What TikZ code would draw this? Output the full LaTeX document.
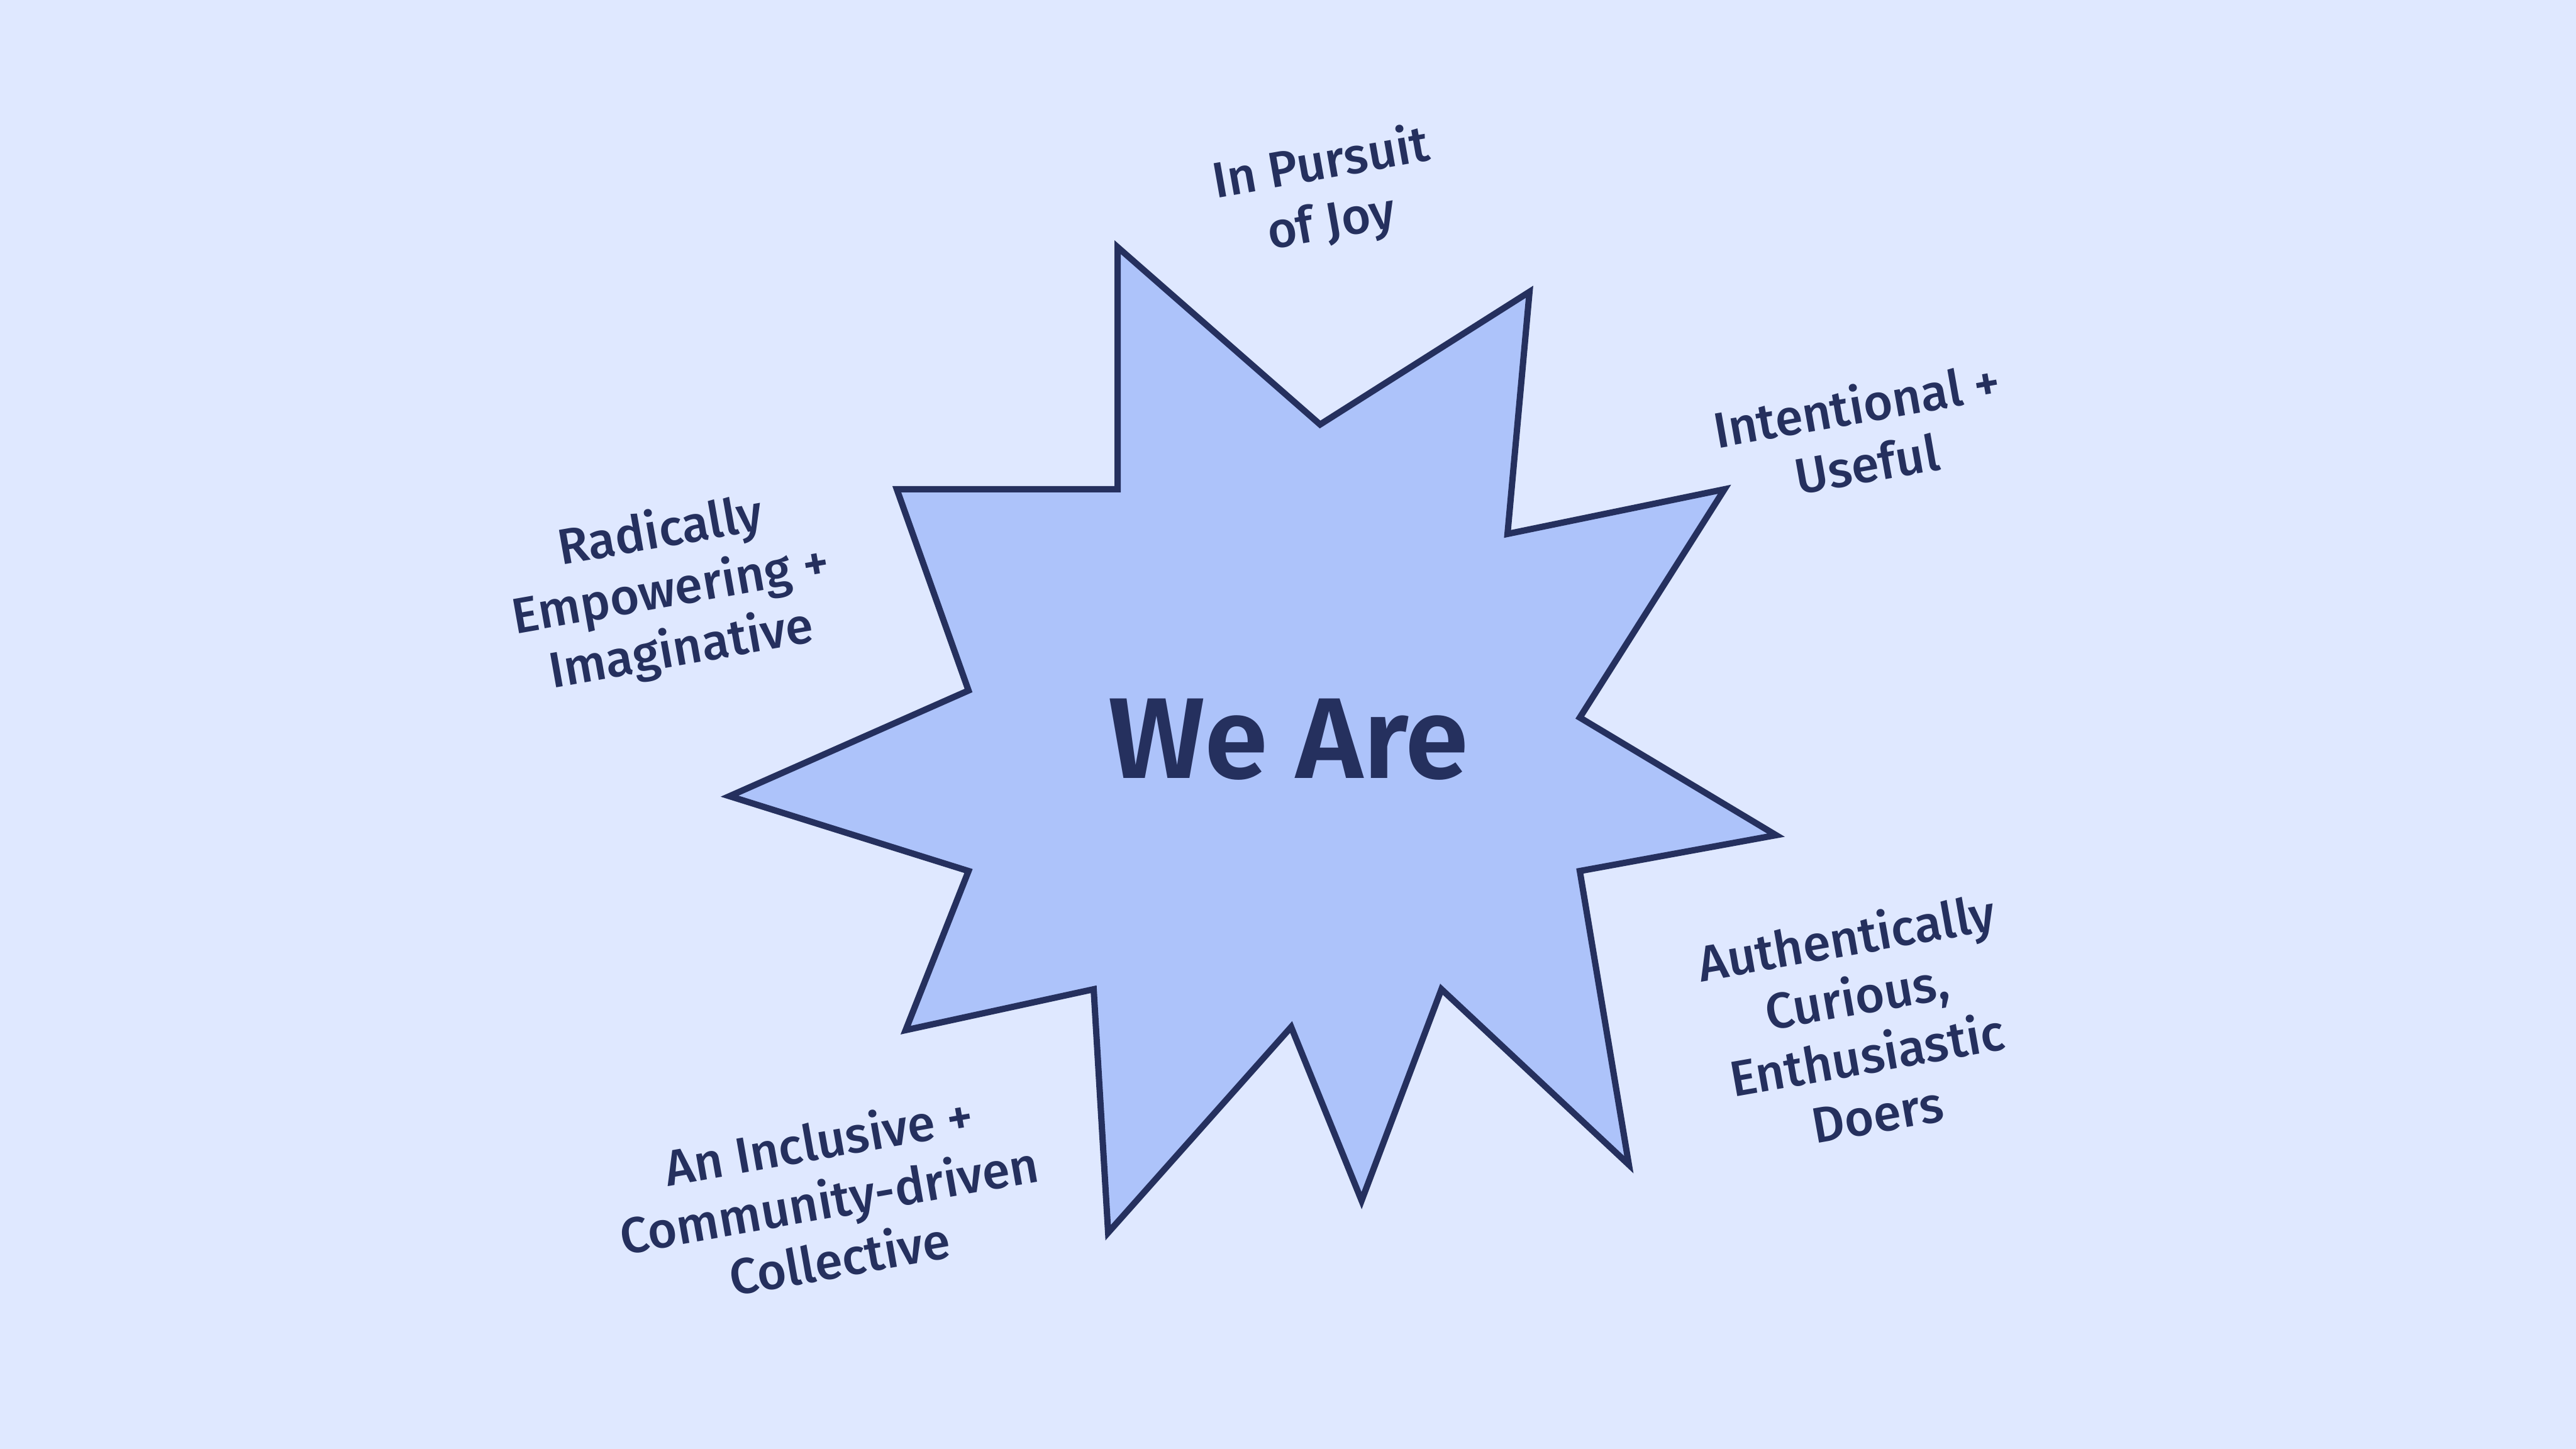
\documentclass[tikz,border=0pt]{standalone}
\usepackage{fontspec}
\setmainfont{Fira Sans}[UprightFont=* Medium, BoldFont=* SemiBold]
\usetikzlibrary{positioning}
\definecolor{weBg}{HTML}{DFE8FF}
\definecolor{weStar}{HTML}{ADC3FA}
\definecolor{weNavy}{HTML}{25305E}

\begin{document}
\begin{tikzpicture}[line join=miter,
    trait/.style={text=weNavy,align=center,rotate=10,inner sep=0pt,
                  font=\fontsize{22.7}{27}\selectfont}]
    % canvas, 1 unit = 100 px of the 4096 x 2304 sheet
    \fill[weBg] (0,0) rectangle (40.96,23.04);
    \useasboundingbox (0,0) rectangle (40.96,23.04);
    % ten-point burst, clockwise from the top spike
    \draw[weNavy,fill=weStar,line width=2.85pt]
        (17.77,19.11) -- (20.99,16.29) -- (24.32,18.40) -- (23.97,14.55)
     -- (27.42,15.26) -- (25.12,11.63) -- (28.24,9.76)  -- (25.12,9.19)
     -- (25.90,4.52)  -- (22.92,7.31)  -- (21.65,3.95)  -- (20.53,6.71)
     -- (17.62,3.44)  -- (17.39,7.31)  -- (14.40,6.66)  -- (15.40,9.19)
     -- (11.60,10.38) -- (15.40,12.06) -- (14.26,15.26) -- (17.77,15.26)
     -- cycle;
    \node[text=weNavy,inner sep=0pt,font=\fontsize{52}{58}\selectfont\bfseries]
       (weare) at (20.49,11.28) {We Are};
    % traits around the burst
    \node[trait] (joy)        at (21.09,19.95) {In Pursuit\\of Joy};
    \node[trait] (useful)     at (29.60,16.15) {Intentional +\\Useful};
    \node[trait] (radical)    at (10.67,13.63) {Radically\\Empowering +\\Imaginative};
    \node[trait] (doers)      at (29.60,6.75)  {Authentically\\Curious,\\Enthusiastic\\Doers};
    \node[trait] (collective) at (13.18,3.98)  {An Inclusive +\\Community-driven\\Collective};
\end{tikzpicture}
\end{document}
